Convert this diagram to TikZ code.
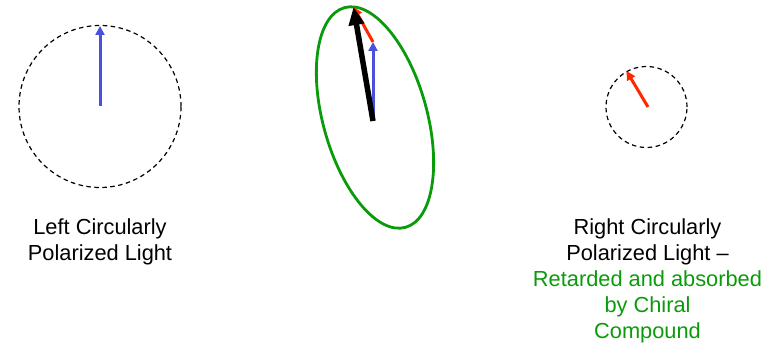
\documentclass[tikz,border=0pt]{standalone}
\usepackage{fontspec}
\setmainfont{Liberation Sans}
\usetikzlibrary{arrows.meta}
\definecolor{vblue}{RGB}{72,80,220}
\definecolor{vred}{RGB}{255,40,0}
\definecolor{vgreen}{RGB}{10,155,10}
\tikzset{
  dcirc/.style={circle,draw=black,dashed,dash pattern=on 4.5pt off 3.5pt,line width=1.2pt,inner sep=0pt},
  bluearrow/.style={draw=vblue,line width=3pt,-{Triangle[length=9pt,width=9pt]}},
  redarrow/.style={draw=vred,line width=3pt,-{Triangle[length=9pt,width=9pt]}},
  blackarrow/.style={draw=black,line width=5.5pt,-{Triangle[length=18pt,width=15pt]}},
  lbl/.style={font=\fontsize{21.8}{26}\selectfont,anchor=base,inner sep=0pt},
  glbl/.style={lbl,text=vgreen}
}
\begin{document}
\begin{tikzpicture}[x=1pt,y=-1pt]
\useasboundingbox (0,0) rectangle (781,347);
% left
\node[dcirc,minimum size=162pt] (lc) at (100,106.5) {};
\coordinate (lo) at (100,106);
\coordinate (lt) at (100,26);
\draw[bluearrow] (lo) -- (lt);
% middle
\coordinate (mc) at (375,117.5);
\draw[vgreen,line width=2.8pt,rotate around={15.5:(mc)}] (mc) ellipse [x radius=52, y radius=114];
\coordinate (mo) at (373,121);
\coordinate (mb) at (373,42);
\coordinate (mt) at (353.5,7);
\draw[bluearrow] (mo) -- (mb);
\draw[redarrow] (mb) -- (mt);
\draw[blackarrow] (mo) -- (mt);
% right
\node[dcirc,minimum size=81pt] (rc) at (646.5,107) {};
\coordinate (ro) at (648,107);
\coordinate (rt) at (626.5,71);
\draw[redarrow] (ro) -- (rt);
% labels
\node[lbl] (l1) at (100,235) {Left Circularly};
\node[lbl] (l2) at (100,260) {Polarized Light};
\node[lbl] (r1) at (647.5,235) {Right Circularly};
\node[lbl] (r2) at (647.5,260) {Polarized Light –};
\node[glbl] (r3) at (647.5,286) {Retarded and absorbed};
\node[glbl] (r4) at (647.5,312) {by Chiral};
\node[glbl] (r5) at (647.5,338) {Compound};
\end{tikzpicture}
\end{document}
